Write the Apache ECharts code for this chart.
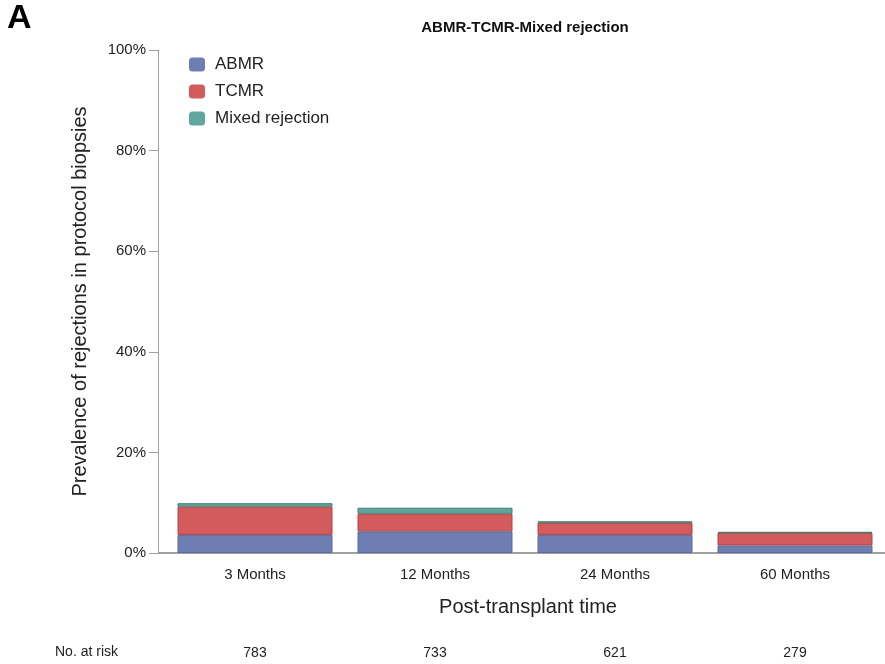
<!DOCTYPE html>
<html><head><meta charset="utf-8">
<script src="https://cdn.jsdelivr.net/npm/echarts@6/dist/echarts.min.js"></script>
<style>html,body{margin:0;padding:0;background:#fff}#c{width:885px;height:664px}</style>
</head><body><div id="c"></div>
<script>
const categories = ['3 Months', '12 Months', '24 Months', '60 Months'];
const atRisk = ['783', '733', '621', '279'];
const abmr = [3.6, 4.3, 3.6, 1.5];
const tcmr = [5.6, 3.5, 2.4, 2.5];
const mixed = [0.7, 1.2, 0.3, 0.2];
const yTicks = [0, 20, 40, 60, 80, 100];

const chart = echarts.init(document.getElementById('c'), null, {renderer: 'canvas'});
const F = 'Liberation Sans, Arial, sans-serif';
function ser(name, data, fill, border) {
  return {name, type: 'bar', stack: 'all', data, barWidth: 155,
    itemStyle: {color: fill, borderColor: border, borderWidth: 1}};
}
chart.setOption({
  animation: false,
  title: {text: 'ABMR-TCMR-Mixed rejection', left: 520, top: 15, textAlign: 'center',
    textStyle: {fontFamily: F, fontSize: 15, fontWeight: 'bold', color: '#111'}},
  legend: {orient: 'vertical', left: 184, top: 51, itemWidth: 16, itemHeight: 14, itemGap: 10,
    icon: 'roundRect', itemStyle: {borderWidth: 0},
    textStyle: {fontFamily: F, fontSize: 17, color: '#222', padding: [0, 0, 0, 5]},
    data: ['ABMR', 'TCMR', 'Mixed rejection']},
  grid: {left: 165, right: -4, top: 50, bottom: 111},
  xAxis: [{type: 'category', data: categories, position: 'bottom',
    name: 'Post-transplant time', nameLocation: 'middle', nameGap: 44,
    nameTextStyle: {fontFamily: F, fontSize: 20, color: '#222', padding: [0, 0, 0, 6]},
    axisLine: {lineStyle: {color: '#a0a0a0', width: 2}},
    axisTick: {alignWithLabel: true, length: 7, lineStyle: {color: '#a0a0a0'}},
    axisLabel: {fontFamily: F, fontSize: 15, color: '#222', margin: 14}},
   {type: 'category', data: atRisk, position: 'bottom', offset: 93,
    axisLine: {show: false}, axisTick: {show: false},
    axisLabel: {fontFamily: F, fontSize: 14, color: '#222', margin: 0}}],
  yAxis: {type: 'value', min: 0, max: 100, interval: 20, offset: 7,
    name: 'Prevalence of rejections in protocol biopsies', nameLocation: 'middle', nameGap: 68,
    nameTextStyle: {fontFamily: F, fontSize: 20, color: '#222'},
    axisLine: {show: true, lineStyle: {color: '#a0a0a0', width: 1}},
    axisTick: {show: true, length: 9, lineStyle: {color: '#a0a0a0'}},
    splitLine: {show: false},
    axisLabel: {fontFamily: F, fontSize: 15, color: '#222', margin: 12,
      formatter: v => yTicks.includes(v) ? v + '%' : ''}},
  graphic: [
    {type: 'text', left: 7, top: 2, style: {text: 'A', font: 'bold 34px ' + F, fill: '#000'}},
    {type: 'text', left: 55, top: 645, style: {text: 'No. at risk', font: '14px ' + F, fill: '#222'}},
    {type: 'line', shape: {x1: 158, y1: 553, x2: 166, y2: 553}, style: {stroke: '#a0a0a0', lineWidth: 2}}
  ],
  series: [
    ser('ABMR', abmr, '#6e7eb3', '#5b6aa0'),
    ser('TCMR', tcmr, '#d35b5b', '#b04444'),
    ser('Mixed rejection', mixed, '#61a69e', '#3f7f74')
  ]
});
</script></body></html>
